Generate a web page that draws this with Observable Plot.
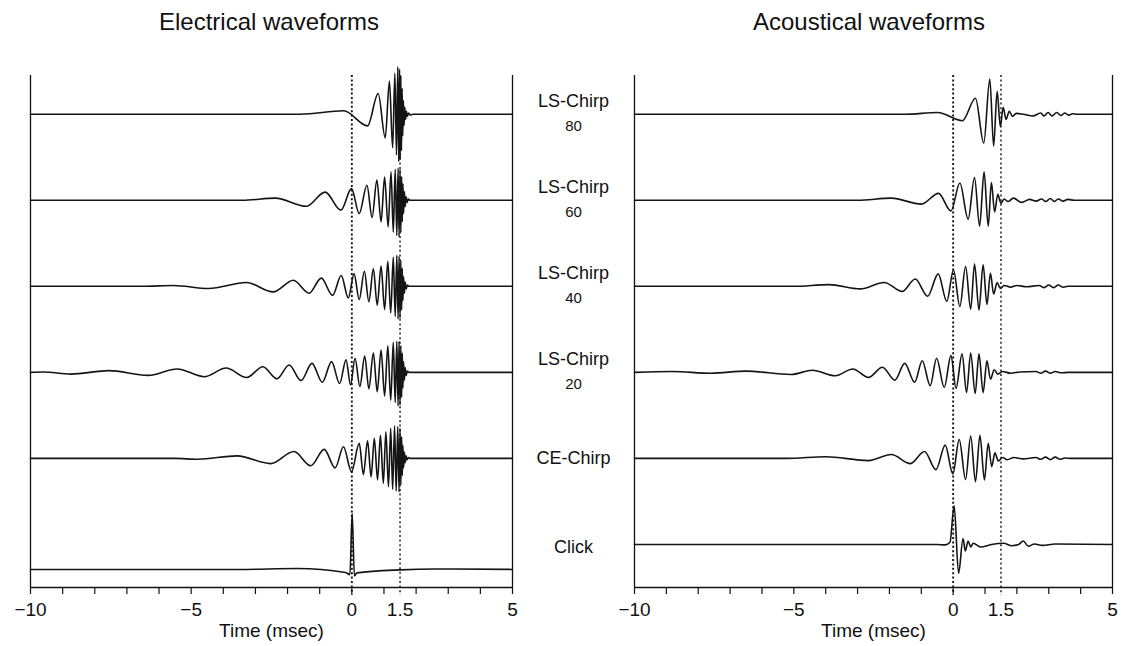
<!DOCTYPE html>
<html>
<head>
<meta charset="utf-8">
<script src="https://cdn.jsdelivr.net/npm/d3@7"></script>
<script src="https://cdn.jsdelivr.net/npm/@observablehq/plot@0.6"></script>
<style>
  html, body { margin: 0; padding: 0; background: #fff; }
  #chart { position: relative; width: 1124px; height: 646px; overflow: hidden;
           font-family: "Liberation Sans", Arial, Helvetica, sans-serif; color: #111; }
  #chart svg { position: absolute; top: 0; overflow: visible; }
  .title { position: absolute; top: 8px; width: 480px; text-align: center; font-size: 24px; line-height: 28px; color: #111; }
</style>
</head>
<body>
<div id="chart"></div>
<script>
// Time axis (msec)
const minorTicks = [-10, -9, -8, -7, -6, -5, -4, -3, -2, -1, 0, 1, 2, 3, 4, 5];
const labelTicks = [-10, -5, 0, 1.5, 5];
const markerTimes = [0, 1.5];

// Stimulus rows, top to bottom
const rowLabels = ["LS-Chirp", "LS-Chirp", "LS-Chirp", "LS-Chirp", "CE-Chirp", "Click"];
const rowLevels = ["80", "60", "40", "20", "", ""];
const electricalOffsets = [11, 9, 7, 5, 3, 0.42];
const acousticalOffsets = [11, 9, 7, 5, 3, 1.0];

// Electrical waveforms: turning points [time (ms), amplitude]
const elecLS80 = [[-10,0],[-1.6,0],[-0.25,0.08],[0.49,-0.27],[0.82,0.48],[1.04,-0.55],[1.17,0.77],[1.27,-0.78],[1.34,0.95],[1.39,-0.95],[1.43,1.1],[1.46,-1.1],[1.485,1.05],[1.505,-1.05],[1.525,0.9],[1.545,-0.85],[1.565,0.6],[1.585,-0.5],[1.605,0.32],[1.625,-0.26],[1.65,0.16],[1.675,-0.12],[1.7,0.07],[1.73,-0.05],[1.77,0.03],[1.82,-0.02],[1.9,0],[5,0]];
const elecLS60 = [[-10,0],[-3.4,0],[-2.38,0.05],[-1.42,-0.14],[-0.83,0.19],[-0.34,-0.23],[-0.01,0.27],[0.23,-0.31],[0.47,0.35],[0.63,-0.4],[0.78,0.47],[0.91,-0.5],[1.02,0.54],[1.13,-0.62],[1.22,0.66],[1.29,-0.74],[1.35,0.72],[1.4,-0.82],[1.44,0.75],[1.47,-0.85],[1.5,0.72],[1.525,-0.75],[1.55,0.55],[1.57,-0.5],[1.59,0.38],[1.61,-0.3],[1.635,0.2],[1.66,-0.15],[1.69,0.08],[1.72,-0.05],[1.76,0.03],[1.81,0],[5,0]];
const elecLS40 = [[-10,0],[-6.5,0],[-5.55,0.02],[-4.46,-0.05],[-3.28,0.09],[-2.45,-0.13],[-1.82,0.14],[-1.33,-0.16],[-0.95,0.19],[-0.6,-0.21],[-0.33,0.25],[-0.11,-0.27],[0.07,0.29],[0.23,-0.31],[0.39,0.35],[0.53,-0.36],[0.67,0.41],[0.79,-0.44],[0.91,0.47],[1.02,-0.54],[1.12,0.58],[1.21,-0.62],[1.29,0.68],[1.35,-0.7],[1.4,0.72],[1.44,-0.76],[1.47,0.7],[1.5,-0.74],[1.525,0.6],[1.55,-0.55],[1.57,0.42],[1.59,-0.33],[1.61,0.22],[1.635,-0.16],[1.66,0.1],[1.69,-0.06],[1.73,0.03],[1.78,0],[5,0]];
const elecLS20 = [[-10,0],[-9.6,0.01],[-8.75,-0.04],[-7.56,0.04],[-6.35,-0.07],[-5.43,0.08],[-4.59,-0.1],[-3.91,0.1],[-3.27,-0.12],[-2.77,0.13],[-2.33,-0.15],[-1.95,0.17],[-1.58,-0.19],[-1.24,0.21],[-0.92,-0.23],[-0.63,0.25],[-0.38,-0.26],[-0.18,0.29],[-0.04,-0.29],[0.1,0.33],[0.25,-0.33],[0.4,0.38],[0.53,-0.38],[0.67,0.45],[0.79,-0.45],[0.91,0.52],[1.02,-0.55],[1.12,0.62],[1.21,-0.65],[1.29,0.7],[1.35,-0.7],[1.4,0.72],[1.44,-0.78],[1.47,0.72],[1.5,-0.76],[1.525,0.62],[1.55,-0.58],[1.57,0.45],[1.59,-0.36],[1.61,0.25],[1.635,-0.18],[1.66,0.11],[1.69,-0.07],[1.73,0.03],[1.78,0],[5,0]];
const elecCE = [[-10,0],[-5.5,0],[-4.8,-0.02],[-3.57,0.06],[-2.53,-0.12],[-1.8,0.16],[-1.28,-0.17],[-0.86,0.21],[-0.52,-0.22],[-0.26,0.27],[-0.01,-0.31],[0.23,0.35],[0.36,-0.37],[0.49,0.41],[0.6,-0.43],[0.7,0.47],[0.8,-0.5],[0.89,0.54],[0.98,-0.58],[1.06,0.62],[1.14,-0.66],[1.21,0.7],[1.27,-0.72],[1.33,0.76],[1.38,-0.76],[1.43,0.74],[1.47,-0.78],[1.5,0.7],[1.525,-0.62],[1.55,0.5],[1.57,-0.4],[1.59,0.3],[1.61,-0.22],[1.635,0.15],[1.66,-0.1],[1.69,0.06],[1.72,-0.03],[1.76,0.02],[1.81,0],[5,0]];
const elecClick = [[-10,0],[-3.5,0],[-1.7,0.02],[-0.2,-0.07],[-0.06,-0.12],[0.01,1.3],[0.08,-0.15],[0.16,-0.08],[1.5,-0.01],[2.6,0.01],[5,0]];

// Acoustical waveforms (ear-canal recordings): turning points [time (ms), amplitude]
const acouLS80 = [[-10,0],[-1.5,0],[-0.49,0.04],[0.29,-0.15],[0.7,0.37],[0.96,-0.67],[1.15,0.82],[1.27,-0.74],[1.38,0.53],[1.48,-0.29],[1.57,0.16],[1.66,-0.12],[1.76,0.07],[1.86,-0.05],[1.98,0.02],[2.2,0],[2.5,-0.04],[2.75,0.03],[2.85,-0.04],[2.98,0.04],[3.1,-0.04],[3.25,0.04],[3.38,-0.03],[3.5,0.03],[3.62,-0.02],[3.75,0.01],[3.9,0],[5,0]];
const acouLS60 = [[-10,0],[-3,0],[-1.94,0.05],[-1,-0.09],[-0.46,0.16],[-0.07,-0.25],[0.21,0.4],[0.47,-0.44],[0.67,0.53],[0.83,-0.6],[0.97,0.66],[1.1,-0.6],[1.2,0.41],[1.3,-0.27],[1.4,0.14],[1.5,-0.07],[1.6,0.03],[1.72,-0.03],[1.89,0.05],[2.15,-0.05],[2.4,0.02],[2.6,-0.02],[2.78,0.03],[2.9,-0.03],[3.05,0.04],[3.17,-0.03],[3.3,0.03],[3.45,-0.02],[3.6,0.02],[3.8,0],[5,0]];
const acouLS40 = [[-10,0],[-5,0],[-3.9,0.04],[-2.92,-0.06],[-2.16,0.09],[-1.6,-0.12],[-1.19,0.17],[-0.8,-0.23],[-0.47,0.29],[-0.2,-0.35],[0.01,0.38],[0.21,-0.47],[0.39,0.46],[0.55,-0.53],[0.67,0.52],[0.81,-0.55],[0.94,0.5],[1.06,-0.42],[1.17,0.3],[1.27,-0.18],[1.38,0.09],[1.48,-0.05],[1.6,0.02],[1.8,-0.02],[2,0.02],[2.3,-0.01],[2.7,0.02],[2.85,-0.03],[3,0.03],[3.15,-0.03],[3.3,0.03],[3.45,-0.02],[3.6,0],[5,0]];
const acouLS20 = [[-10,0],[-8.8,0.02],[-7.6,-0.02],[-6.5,0.03],[-5.09,-0.05],[-4.42,0.05],[-3.7,-0.08],[-3.15,0.08],[-2.66,-0.12],[-2.22,0.12],[-1.83,-0.18],[-1.52,0.21],[-1.21,-0.23],[-0.97,0.27],[-0.72,-0.31],[-0.52,0.33],[-0.28,-0.35],[-0.07,0.39],[0.09,-0.37],[0.28,0.43],[0.42,-0.47],[0.55,0.45],[0.69,-0.49],[0.81,0.43],[0.94,-0.47],[1.06,0.27],[1.17,-0.16],[1.29,0.06],[1.4,-0.04],[1.55,0.02],[1.8,-0.02],[2.1,0.01],[2.6,0.02],[2.75,-0.02],[2.9,0.03],[3.05,-0.02],[3.2,0.02],[3.4,-0.01],[3.6,0],[5,0]];
const acouCE = [[-10,0],[-5.2,0],[-4,0.04],[-2.66,-0.05],[-1.94,0.09],[-1.34,-0.12],[-0.9,0.16],[-0.54,-0.26],[-0.25,0.31],[-0.01,-0.36],[0.19,0.44],[0.39,-0.49],[0.55,0.52],[0.7,-0.54],[0.84,0.54],[0.98,-0.5],[1.1,0.35],[1.21,-0.19],[1.31,0.13],[1.42,-0.06],[1.55,0.02],[1.7,-0.03],[1.9,0.02],[2.2,-0.01],[2.6,0.02],[2.75,-0.02],[2.9,0.03],[3.05,-0.03],[3.2,0.03],[3.35,-0.02],[3.5,0.01],[3.7,0],[5,0]];
const acouClick = [[-10,0],[-0.5,0],[-0.25,-0.01],[-0.1,0.05],[0.03,0.9],[0.17,-0.67],[0.31,0.14],[0.38,-0.15],[0.47,0.08],[0.55,-0.06],[0.63,0.03],[0.86,-0.06],[1.2,0],[1.58,0.03],[1.84,-0.03],[2.05,0],[2.2,0.08],[2.36,-0.04],[2.55,0.01],[2.8,-0.02],[3.2,0.01],[5,0]];

const electrical = [elecLS80, elecLS60, elecLS40, elecLS20, elecCE, elecClick];
const acoustical = [acouLS80, acouLS60, acouLS40, acouLS20, acouCE, acouClick];

const FONT = '"Liberation Sans", Arial, Helvetica, sans-serif';
const yTop = 11.9;

// Stack each waveform on its own baseline
function stack(waves, offsets) {
  return waves.flatMap((w, row) => w.map(([t, a]) => ({row, t, v: offsets[row] + a})));
}

const minus = d => (d < 0 ? "\u2212" + Math.abs(d) : String(d));

function panel({waves, offsets, width, marginLeft, marginRight, extra = []}) {
  return Plot.plot({
    width, height: 646,
    marginLeft, marginRight, marginTop: 75, marginBottom: 59,
    style: {fontFamily: FONT, fontSize: "19px", color: "#111", background: "transparent"},
    x: {domain: [-10, 5]},
    y: {domain: [0, yTop], axis: null},
    marks: [
      Plot.ruleX([-10, 5], {stroke: "#111", strokeWidth: 1.3}),
      Plot.ruleY([0], {stroke: "#111", strokeWidth: 1.3}),
      Plot.axisX(minorTicks, {tickSize: 7, tickFormat: () => "", label: null, stroke: "#111", strokeWidth: 1.2}),
      Plot.axisX(labelTicks, {tickSize: 0, tickPadding: 15, tickFormat: minus, label: null, fontSize: 19, fill: "#111"}),
      Plot.text(["Time (msec)"], {text: d => d, frameAnchor: "bottom", dy: 49, fontSize: 19, fill: "#111"}),
      Plot.ruleX([markerTimes[0]], {stroke: "#111", strokeWidth: 1.9, strokeDasharray: "2,2.4", insetBottom: -8}),
      Plot.ruleX([markerTimes[1]], {stroke: "#222", strokeWidth: 1.5, strokeDasharray: "2,2.6", insetBottom: -8}),
      Plot.line(stack(waves, offsets), {x: "t", y: "v", z: "row", curve: "monotone-x", stroke: "#141414", strokeWidth: 1.6}),
      ...extra
    ]
  });
}

// Row names sit in the gap between the two panels
const labelData = rowLabels.map((label, i) => ({label, level: rowLevels[i], y: acousticalOffsets[i]}));
const common = {y: "y", frameAnchor: "right", textAnchor: "middle", dx: 61, fill: "#111"};
const labelMarks = [
  Plot.text(labelData.filter(d => d.level), {...common, text: "label", dy: -13, fontSize: 18}),
  Plot.text(labelData.filter(d => d.level), {...common, text: "level", dy: 12, fontSize: 15}),
  Plot.text(labelData.filter(d => d.label === "CE-Chirp"), {...common, text: "label", dy: 0, fontSize: 18}),
  Plot.text(labelData.filter(d => d.label === "Click"), {...common, text: "label", dy: 3, fontSize: 18})
];

const chart = document.getElementById("chart");

const left = panel({waves: electrical, offsets: electricalOffsets, width: 622, marginLeft: 30, marginRight: 110, extra: labelMarks});
left.style.left = "0px";
const right = panel({waves: acoustical, offsets: acousticalOffsets, width: 564, marginLeft: 74, marginRight: 12});
right.style.left = "560px";
chart.append(left, right);

// Panel titles
[["Electrical waveforms", 29], ["Acoustical waveforms", 629]].forEach(([text, x]) => {
  const t = document.createElement("div");
  t.className = "title";
  t.style.left = x + "px";
  t.textContent = text;
  chart.append(t);
});
</script>
</body>
</html>
